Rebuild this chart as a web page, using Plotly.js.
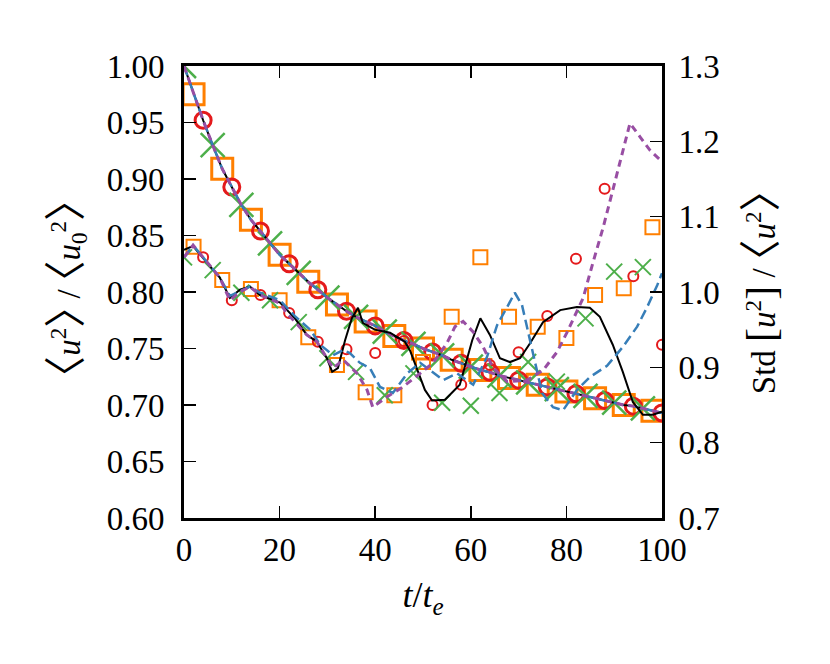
<!DOCTYPE html>
<html>
<head>
<meta charset="utf-8">
<script src="https://cdn.plot.ly/plotly-3.0.1.min.js"></script>
<style>
  html, body { margin: 0; padding: 0; background: #fff; }
  #myDiv { width: 830px; height: 664px; }
</style>
</head>
<body>
<div id="myDiv"></div>
<script>
// mean <u^2>/<u0^2> (left axis)
var tMean = [0, 2, 4, 6, 8, 10, 12, 14, 16, 18, 20, 22, 24, 26, 28, 30, 32, 34, 36, 38, 40,
  42, 44, 46, 48, 50, 52, 54, 56, 58, 60, 62, 64, 66, 68, 70, 72, 74, 76, 78, 80,
  82, 84, 86, 88, 90, 92, 94, 96, 98, 100];
var meanU2 = [1.000, 0.975, 0.952, 0.930, 0.909, 0.893, 0.877, 0.864, 0.854, 0.843, 0.833,
  0.825, 0.817, 0.809, 0.802, 0.795, 0.789, 0.783, 0.778, 0.774, 0.770,
  0.765, 0.761, 0.757, 0.754, 0.750, 0.747, 0.744, 0.740, 0.737, 0.734,
  0.731, 0.729, 0.726, 0.724, 0.722, 0.720, 0.718, 0.716, 0.714, 0.712,
  0.710, 0.708, 0.706, 0.704, 0.702, 0.700, 0.699, 0.697, 0.695, 0.693];

// marker times
var tSquares = [2, 8, 14, 20, 26, 32, 38, 44, 50, 56, 62, 68, 74, 80, 86, 92, 98];
var tCircles = [4, 10, 16, 22, 28, 34, 40, 46, 52, 58, 64, 70, 76, 82, 88, 94, 100];
var tCrosses = [0, 6, 12, 18, 24, 30, 36, 42, 48, 54, 60, 66, 72, 78, 84, 90, 96];

// Std[u^2]/<u^2> markers (right axis)
var stdSquares = [1.060, 1.016, 1.004, 0.989, 0.940, 0.903, 0.867, 0.863, 0.907, 0.967,
  1.046, 0.967, 0.954, 0.939, 0.996, 1.005, 1.086];
var stdCircles = [1.046, 0.989, 0.996, 0.972, 0.934, 0.924, 0.919, 0.935, 0.850, 0.877,
  0.903, 0.920, 0.968, 1.044, 1.137, 1.021, 0.930];
var stdCrosses = [1.046, 1.029, 0.999, 0.989, 0.960, 0.912, 0.894, 0.863, 0.892, 0.853,
  0.849, 0.866, 0.907, 0.881, 0.965, 1.027, 1.033];

// Std lines (right axis)
var tStdBlack = [0, 1.9, 4.0, 7.5, 9.6, 11.7, 13.8, 15.9, 20.1, 23.2, 25.7, 27.8, 29.9, 31.0,
  32.2, 33.7, 35.1, 36.4, 37.4, 39.9, 43.1, 46.2, 47.3, 49.0, 50.4, 51.9, 54.6, 57.7,
  60.3, 62.0, 64.0, 66.1, 68.2, 70.3, 72.4, 75.1, 78.7, 82.2, 84.9, 87.0, 89.7, 91.8,
  93.9, 96.0, 98.1, 100];
var stdBlack = [1.056, 1.061, 1.045, 1.019, 0.992, 1.003, 1.007, 0.996, 0.986, 0.965, 0.943,
  0.934, 0.912, 0.894, 0.899, 0.936, 0.965, 0.979, 0.959, 0.950, 0.946, 0.934, 0.922,
  0.893, 0.870, 0.856, 0.857, 0.877, 0.936, 0.965, 0.943, 0.912, 0.907, 0.912, 0.932,
  0.960, 0.976, 0.980, 0.979, 0.967, 0.930, 0.894, 0.854, 0.837, 0.837, 0.841];

var tStdBlue = [0, 1.9, 4.0, 7.5, 9.6, 13.8, 15.9, 20.1, 23.2, 26.4, 28.5, 31.2, 33.3, 34.7,
  36.8, 38.9, 41.0, 43.7, 46.7, 49.4, 51.5, 54.2, 57.1, 60.5, 63.4, 65.5, 67.6, 69.2,
  70.7, 72.4, 73.8, 74.9, 77.2, 79.3, 82.2, 84.9, 88.5, 91.8, 94.8, 96.9, 99.0, 100];
var stdBlue = [1.046, 1.062, 1.046, 1.019, 0.995, 1.007, 0.999, 0.989, 0.968, 0.950, 0.930,
  0.916, 0.923, 0.919, 0.906, 0.899, 0.874, 0.866, 0.892, 0.906, 0.896, 0.883, 0.892,
  0.877, 0.914, 0.956, 0.980, 0.999, 0.983, 0.936, 0.896, 0.866, 0.847, 0.843, 0.870,
  0.887, 0.902, 0.927, 0.954, 0.980, 1.009, 1.025];

var tStdPurple = [0, 1.9, 4.0, 7.5, 9.6, 11.7, 13.8, 15.9, 20.1, 21.5, 25.7, 27.8, 29.9, 31.2,
  33.3, 36.2, 38.3, 39.5, 42.5, 45.8, 49.4, 52.1, 55.0, 56.7, 58.4, 60.5, 62.6, 64.6,
  67.6, 71.8, 75.1, 78.0, 80.1, 81.8, 83.5, 85.6, 87.7, 89.7, 91.8, 93.3, 95.4, 97.5, 100];
var stdPurple = [1.046, 1.062, 1.046, 1.019, 0.989, 1.000, 1.007, 0.996, 0.985, 0.972, 0.943,
  0.934, 0.912, 0.899, 0.910, 0.892, 0.870, 0.847, 0.861, 0.874, 0.892, 0.906, 0.932,
  0.954, 0.961, 0.947, 0.927, 0.900, 0.881, 0.883, 0.896, 0.920, 0.946, 0.968, 0.992,
  1.040, 1.086, 1.135, 1.188, 1.224, 1.206, 1.188, 1.173];

var BLACK = '#000000', BLUE = '#377eb8', PURPLE = '#984ea3',
    ORANGE = '#ff7f00', RED = '#e41a1c', GREEN = '#4daf4a';

function pick(ts) {
  return ts.map(function (t) { return meanU2[tMean.indexOf(t)]; });
}

function markers(x, y, axis, symbol, color, size, width) {
  return {
    x: x, y: y, yaxis: axis, mode: 'markers', type: 'scatter',
    marker: { symbol: symbol, size: size, color: color, line: { color: color, width: width } }
  };
}

function line(x, y, axis, color, width, dash) {
  return {
    x: x, y: y, yaxis: axis, mode: 'lines', type: 'scatter',
    line: { color: color, width: width, dash: dash }
  };
}

var data = [
  // std markers (small)
  markers(tSquares, stdSquares, 'y2', 'square-open', ORANGE, 14, 2),
  markers(tCircles, stdCircles, 'y2', 'circle-open', RED, 10, 2),
  markers(tCrosses, stdCrosses, 'y2', 'x-thin-open', GREEN, 16, 2),
  // mean markers (big)
  markers(tSquares, pick(tSquares), 'y', 'square-open', ORANGE, 21, 3),
  markers(tCircles, pick(tCircles), 'y', 'circle-open', RED, 16, 3),
  markers(tCrosses, pick(tCrosses), 'y', 'x-thin-open', GREEN, 24, 2.5),
  // lines
  line(tMean, meanU2, 'y', BLACK, 2, 'solid'),
  line(tMean, meanU2, 'y', BLUE, 2.5, '10px,5px'),
  line(tMean, meanU2, 'y', PURPLE, 3, '7px,5px'),
  line(tStdBlack, stdBlack, 'y2', BLACK, 2, 'solid'),
  line(tStdBlue, stdBlue, 'y2', BLUE, 2.5, '10px,5px'),
  line(tStdPurple, stdPurple, 'y2', PURPLE, 3, '7px,5px')
];

var FONT = { family: 'Liberation Serif', size: 33, color: '#000' };
// thin tall angle brackets (full-width glyphs, pulled tight with letter-spacing)
var L = '<span style="font-size:42px;font-family:Noto Sans CJK SC">〈</span>';
var R = '<span style="font-size:42px;font-family:Noto Sans CJK SC;letter-spacing:-0.5em">〉</span>';
var LB = '<span style="font-size:42px">[</span>';
var RB = '<span style="font-size:42px">]</span>';
var SL = ' <span style="letter-spacing:-0.4em">/</span>';

var leftTitle = L + '<i>u</i><sup>2</sup>' + R + SL + L + '<i>u</i><sub>0</sub><sup>2</sup>' + R;
var rightTitle = 'Std ' + LB + '<i>u</i><sup>2</sup>' + RB + SL + L + '<i>u</i><sup>2</sup>' + R;

var layout = {
  width: 830,
  height: 664,
  margin: { l: 184, r: 168, t: 66, b: 146 },
  paper_bgcolor: '#fff',
  plot_bgcolor: '#fff',
  showlegend: false,
  font: FONT,
  annotations: [
    { text: leftTitle, xref: 'paper', yref: 'paper', x: -0.255, y: 0.485,
      xanchor: 'center', yanchor: 'middle', textangle: -90, showarrow: false, font: FONT },
    { text: rightTitle, xref: 'paper', yref: 'paper', x: 1.197, y: 0.5,
      xanchor: 'center', yanchor: 'middle', textangle: -90, showarrow: false, font: FONT }
  ],
  xaxis: {
    range: [0, 100],
    tickvals: [0, 20, 40, 60, 80, 100],
    ticks: 'inside', ticklen: 12, tickwidth: 1.5, tickcolor: '#000',
    showline: true, linewidth: 3, linecolor: '#000', mirror: 'ticks',
    showgrid: false, zeroline: false,
    tickfont: FONT,
    ticklabelstandoff: 0,
    title: { text: '<i>t</i>/<i>t</i><sub><i>e</i></sub>',
      font: { family: 'Liberation Serif', size: 36, color: '#000' }, standoff: 16 }
  },
  yaxis: {
    range: [0.6, 1.0],
    tickvals: [0.6, 0.65, 0.7, 0.75, 0.8, 0.85, 0.9, 0.95, 1.0],
    tickformat: '.2f',
    ticks: 'inside', ticklen: 12, tickwidth: 1.5, tickcolor: '#000',
    showline: true, linewidth: 3, linecolor: '#000',
    showgrid: false, zeroline: false,
    tickfont: FONT,
    ticklabelstandoff: 10
  },
  yaxis2: {
    overlaying: 'y',
    side: 'right',
    range: [0.7, 1.3],
    tickvals: [0.7, 0.8, 0.9, 1.0, 1.1, 1.2, 1.3],
    tickformat: '.1f',
    ticks: 'inside', ticklen: 12, tickwidth: 1.5, tickcolor: '#000',
    showline: true, linewidth: 3, linecolor: '#000',
    showgrid: false, zeroline: false,
    tickfont: FONT,
    ticklabelstandoff: 7
  }
};

Plotly.newPlot('myDiv', data, layout, { displayModeBar: false, staticPlot: true });
</script>
</body>
</html>
